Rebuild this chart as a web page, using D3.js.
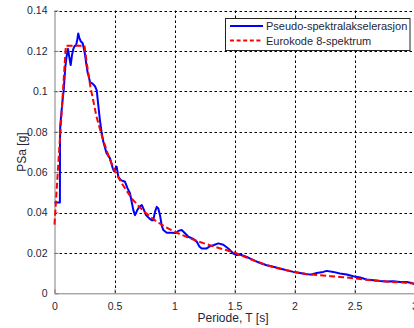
<!DOCTYPE html>
<html>
<head>
<meta charset="utf-8">
<script src="https://cdn.jsdelivr.net/npm/d3@7"></script>
<style>
  html, body { margin: 0; padding: 0; background: #fff; }
  svg { display: block; font-family: "Liberation Sans", Arial, sans-serif; }
</style>
</head>
<body>
<svg id="chart" width="414" height="328"></svg>
<script>
// Pseudo-spectral acceleration (blue) vs. Eurocode 8 design spectrum (red)
const periodPseudo = [0, 0.040, 0.045, 0.046, 0.048, 0.057, 0.068, 0.077, 0.090, 0.100, 0.1125, 0.123, 0.135, 0.146, 0.157, 0.168, 0.179, 0.190, 0.198, 0.207, 0.218, 0.235, 0.252, 0.265, 0.277, 0.283, 0.296, 0.317, 0.3375, 0.352, 0.365, 0.379, 0.392, 0.407, 0.433, 0.4625, 0.485, 0.496, 0.508, 0.518, 0.532, 0.552, 0.588, 0.607, 0.629, 0.643, 0.657, 0.671, 0.690, 0.707, 0.727, 0.740, 0.7625, 0.790, 0.810, 0.823, 0.8375, 0.852, 0.865, 0.879, 0.893, 0.907, 0.935, 0.977, 1.0125, 1.032, 1.060, 1.0875, 1.115, 1.152, 1.185, 1.207, 1.227, 1.268, 1.296, 1.323, 1.365, 1.407, 1.448, 1.490, 1.518, 1.546, 1.602, 1.657, 1.713, 1.768, 1.823, 1.879, 1.935, 1.990, 2.046, 2.102, 2.143, 2.185, 2.240, 2.268, 2.323, 2.379, 2.435, 2.490, 2.546, 2.602, 2.657, 2.713, 2.768, 2.823, 2.879, 2.935, 2.977, 3.0];
const psaPseudo = [0.045, 0.045, 0.045, 0.076, 0.083, 0.089, 0.096, 0.1007, 0.112, 0.117, 0.121, 0.117, 0.113, 0.118, 0.121, 0.1225, 0.1225, 0.1256, 0.1286, 0.1265, 0.1248, 0.1238, 0.119, 0.1135, 0.109, 0.108, 0.1045, 0.1038, 0.1025, 0.1005, 0.093, 0.0855, 0.080, 0.075, 0.0695, 0.0668, 0.062, 0.0605, 0.062, 0.0627, 0.0577, 0.056, 0.0552, 0.0522, 0.0495, 0.0453, 0.0412, 0.0387, 0.0412, 0.0428, 0.0437, 0.042, 0.0387, 0.0371, 0.0362, 0.0362, 0.0403, 0.0428, 0.042, 0.0387, 0.0337, 0.0313, 0.030, 0.030, 0.0298, 0.0309, 0.0313, 0.0297, 0.028, 0.0271, 0.0256, 0.0232, 0.0222, 0.0222, 0.0233, 0.0238, 0.0247, 0.024, 0.0222, 0.0197, 0.0189, 0.0192, 0.018, 0.0164, 0.015, 0.0139, 0.0131, 0.0123, 0.0114, 0.0106, 0.0101, 0.0094, 0.0093, 0.0101, 0.0106, 0.0111, 0.0106, 0.0098, 0.0093, 0.0084, 0.0078, 0.0068, 0.0065, 0.0061, 0.0058, 0.006, 0.0056, 0.0056, 0.0051, 0.0045];

const periodEC8 = [0, 0.02, 0.04, 0.06, 0.08, 0.095, 0.25, 0.27, 0.30, 0.35, 0.40, 0.45, 0.50, 0.55, 0.60, 0.65, 0.70, 0.75, 0.80, 0.85, 0.90, 0.95, 1.0, 1.1, 1.2, 1.3, 1.4, 1.5, 1.6, 1.7, 1.8, 1.9, 2.0, 2.1, 2.2, 2.3, 2.4, 2.5, 2.6, 2.7, 2.8, 2.9, 3.0];
const psaEC8 = [0.034, 0.053, 0.072, 0.090, 0.109, 0.1226, 0.1226, 0.1135, 0.102, 0.0875, 0.0768, 0.068, 0.0608, 0.0555, 0.0508, 0.0465, 0.0432, 0.0403, 0.0378, 0.0356, 0.0337, 0.032, 0.0305, 0.0279, 0.0256, 0.0237, 0.0219, 0.0202, 0.0177, 0.0154, 0.0134, 0.0118, 0.0106, 0.0096, 0.009, 0.0085, 0.008, 0.0074, 0.0067, 0.0062, 0.0057, 0.0053, 0.0048];

const xTicks = [0, 0.5, 1, 1.5, 2, 2.5, 3];
const yTicks = [0, 0.02, 0.04, 0.06, 0.08, 0.1, 0.12, 0.14];
const seriesNames = ["Pseudo-spektralakselerasjon", "Eurokode 8-spektrum"];
const xTitle = "Periode, T [s]";
const yTitle = "PSa [g]";

const svg = d3.select("#chart");
const plot = { left: 54.5, right: 414.5, top: 10.5, bottom: 293.3 };

const x = d3.scaleLinear().domain([0, 3]).range([plot.left, plot.right]);
const y = d3.scaleLinear().domain([0, 0.14]).range([plot.bottom, plot.top]);

svg.append("rect").attr("width", 414).attr("height", 328).attr("fill", "#fff");

// dotted grid
const grid = svg.append("g").attr("stroke", "#000").attr("stroke-width", 1)
  .attr("stroke-dasharray", "2.5,2.5").attr("fill", "none");
grid.selectAll("line.v").data(xTicks.filter(d => d > 0)).join("line")
  .attr("x1", d => Math.round(x(d)) + 0.5).attr("x2", d => Math.round(x(d)) + 0.5)
  .attr("y1", plot.top).attr("y2", plot.bottom);
grid.selectAll("line.h").data(yTicks.filter(d => d > 0)).join("line")
  .attr("y1", d => Math.round(y(d)) + 0.5).attr("y2", d => Math.round(y(d)) + 0.5)
  .attr("x1", plot.left).attr("x2", plot.right);

// axes with inward ticks
const axisColor = "#808080";
const xAxis = svg.append("g").attr("transform", `translate(0,${plot.bottom})`)
  .call(d3.axisBottom(x).tickValues(xTicks).tickFormat(d3.format("")).tickSizeInner(-4).tickSizeOuter(0).tickPadding(9));
const yAxis = svg.append("g").attr("transform", `translate(${plot.left},0)`)
  .call(d3.axisLeft(y).tickValues(yTicks).tickFormat(d => d === 0 ? "0" : String(+d.toFixed(2))).tickSizeInner(-4).tickSizeOuter(0).tickPadding(7));
[xAxis, yAxis].forEach(a => {
  a.select(".domain").attr("stroke", axisColor);
  a.selectAll(".tick line").attr("stroke", axisColor);
  a.selectAll(".tick text").attr("fill", "#262638").attr("font-size", "10.5px")
    .attr("font-family", "Liberation Sans, Arial, sans-serif");
});

// spectra
const line = d3.line().x(d => x(d[0])).y(d => y(d[1]));
const pseudo = d3.zip(periodPseudo, psaPseudo);
const ec8 = d3.zip(periodEC8, psaEC8);
svg.append("path").datum(pseudo).attr("d", line)
  .attr("fill", "none").attr("stroke", "#0000ff").attr("stroke-width", 2).attr("stroke-linejoin", "round");
svg.append("path").datum(ec8).attr("d", line)
  .attr("fill", "none").attr("stroke", "#ff0000").attr("stroke-width", 2).attr("stroke-dasharray", "6,3");

// axis titles
svg.append("text").attr("x", 233).attr("y", 322).attr("text-anchor", "middle")
  .attr("font-size", "12px").attr("fill", "#262638").text(xTitle);
svg.append("text").attr("transform", "translate(26,152) rotate(-90)").attr("text-anchor", "middle")
  .attr("font-size", "12px").attr("fill", "#262638").text(yTitle);

// legend
const lg = svg.append("g");
lg.append("rect").attr("x", 225.5).attr("y", 18.5).attr("width", 184.5).attr("height", 32)
  .attr("fill", "#fff").attr("stroke", "#222").attr("stroke-width", 1);
const legendItems = [
  { name: seriesNames[0], color: "#0000ff", dash: null, yy: 26 },
  { name: seriesNames[1], color: "#ff0000", dash: "4,2.6", yy: 40.5 }
];
legendItems.forEach(it => {
  lg.append("line").attr("x1", 230).attr("x2", 263).attr("y1", it.yy).attr("y2", it.yy)
    .attr("stroke", it.color).attr("stroke-width", 2).attr("stroke-dasharray", it.dash);
  lg.append("text").attr("x", 266).attr("y", it.yy + 4).attr("font-size", "11px")
    .attr("fill", "#262638").text(it.name);
});
</script>
</body>
</html>
